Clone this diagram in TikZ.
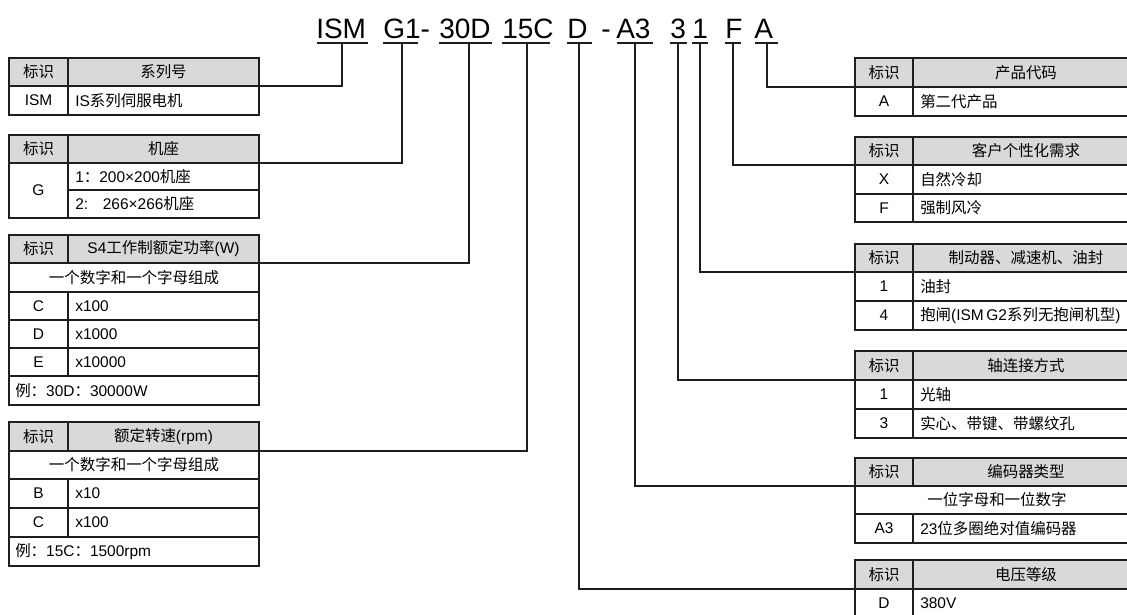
\documentclass[tikz,border=0pt]{standalone}
\usepackage{fontspec}
\setmainfont{Liberation Sans}
\newfontfamily\cjk{Noto Sans CJK SC}
\definecolor{headgray}{RGB}{217,217,217}
\definecolor{linecol}{RGB}{30,30,30}
\tikzset{
  tb/.style={draw=linecol, line width=0.9pt},
  conn/.style={draw=linecol, line width=0.8pt},
  txt/.style={inner sep=0pt, font=\fontsize{11.6pt}{13pt}\selectfont, text=black},
  lt/.style={txt, anchor=west},
  ttl/.style={inner sep=0pt, anchor=base west, font=\fontsize{21pt}{24pt}\selectfont},
}
% header: name, L, D, R, top, bottom, title
\newcommand\Head[7]{%
  \fill[headgray] (#2,#5) rectangle (#4,#6);
  \node[txt] (#1-id) at ({(#2+#3)/2},{(#5+#6)/2}) {\cjk 标识};
  \node[txt] (#1-t) at ({(#3+#4)/2},{(#5+#6)/2}) {#7};
  \coordinate (#1-L) at (#2,#6);
  \coordinate (#1-R) at (#4,#6);
}
% row: name, L, D, top, bottom, id, desc
\newcommand\Row[7]{%
  \node[txt] (#1-a) at ({(#2+#3)/2},{(#4+#5)/2}) {#6};
  \node[lt] (#1-b) at ({#3+7},{(#4+#5)/2}) {#7};
}
\begin{document}
\begin{tikzpicture}[x=0.75pt,y=-0.75pt]
\useasboundingbox (0,0) rectangle (1127,614);
\clip (0,0) rectangle (1127,614);
\fill[white] (0,0) rectangle (1127,614);

% ---------- title ----------
\node[ttl] (tISM) at (316,38) {ISM};
\node[ttl] (tG) at (383,38) {G1-};
\node[ttl] (t30D) at (439,38) {30D};
\node[ttl] (t15C) at (502,38) {15C};
\node[ttl] (tD) at (567,38) {D};
\node[ttl] (tdash) at (601,38) {-};
\node[ttl] (tA3) at (616,38) {A3};
\node[ttl] (t3) at (670,38) {3};
\node[ttl] (t1) at (692,38) {1};
\node[ttl] (tF) at (725,38) {F};
\node[ttl] (tA) at (754,38) {A};
\draw[conn] (317,43) -- (368,43);
\draw[conn] (383,43) -- (418,43);
\draw[conn] (439,43) -- (492,43);
\draw[conn] (502,43) -- (550,43);
\draw[conn] (567,43) -- (592,43);
\draw[conn] (617,43) -- (653,43);
\draw[conn] (670,43) -- (687,43);
\draw[conn] (692,43) -- (708,43);
\draw[conn] (725,43) -- (741,43);
\draw[conn] (755,43) -- (778,43);
\coordinate (uISM) at (342,43);
\coordinate (uG) at (402,43);
\coordinate (u30D) at (469,43);
\coordinate (u15C) at (527,43);
\coordinate (uD) at (579,43);
\coordinate (uA3) at (635,43);
\coordinate (u3) at (678,43);
\coordinate (u1) at (700,43);
\coordinate (uF) at (733,43);
\coordinate (uA) at (767,43);

% ---------- left tables ----------
% series
\Head{sys}{9}{68}{259}{58}{86}{\cjk 系列号}
\Row{sys1}{9}{68}{86}{115}{ISM}{IS{\cjk 系列伺服电机}}
\draw[tb] (9,58) rectangle (259,115);
\draw[tb] (9,86) -- (259,86);
\draw[tb] (68,58) -- (68,115);

% frame
\Head{base}{9}{68}{259}{135}{163}{\cjk 机座}
\node[txt] (base-g) at (38.5,190.5) {G};
\node[lt] (base-1) at (75,176.5) {1{\cjk ：}200×200{\cjk 机座}};
\node[lt] (base-2) at (75,204) {2:\hspace{11pt}266×266{\cjk 机座}};
\draw[tb] (9,135) rectangle (259,218);
\draw[tb] (9,163) -- (259,163);
\draw[tb] (68,190) -- (259,190);
\draw[tb] (68,135) -- (68,218);

% power
\Head{pow}{9}{68}{259}{235}{263}{S4{\cjk 工作制额定功率}(W)}
\node[txt] (pow-n) at (134,277.5) {\cjk 一个数字和一个字母组成};
\Row{powC}{9}{68}{292}{320}{C}{x100}
\Row{powD}{9}{68}{320}{348}{D}{x1000}
\Row{powE}{9}{68}{348}{376}{E}{x10000}
\node[lt] (pow-ex) at (15,390.5) {{\cjk 例：}30D{\cjk ：}30000W};
\draw[tb] (9,235) rectangle (259,405);
\foreach \yy in {263,292,320,348,376} \draw[tb] (9,\yy) -- (259,\yy);
\draw[tb] (68,235) -- (68,263);
\draw[tb] (68,292) -- (68,376);

% speed
\Head{spd}{9}{68}{259}{422}{451}{{\cjk 额定转速}(rpm)}
\node[txt] (spd-n) at (134,465) {\cjk 一个数字和一个字母组成};
\Row{spdB}{9}{68}{479}{508}{B}{x10}
\Row{spdC}{9}{68}{508}{537}{C}{x100}
\node[lt] (spd-ex) at (15,551.5) {{\cjk 例：}15C{\cjk ：}1500rpm};
\draw[tb] (9,422) rectangle (259,566);
\foreach \yy in {451,479,508,537} \draw[tb] (9,\yy) -- (259,\yy);
\draw[tb] (68,422) -- (68,451);
\draw[tb] (68,479) -- (68,537);

% ---------- right tables ----------
% product code
\Head{prd}{855}{913}{1139}{58}{87}{\cjk 产品代码}
\Row{prdA}{855}{913}{87}{116}{A}{\cjk 第二代产品}
\draw[tb] (855,58) rectangle (1139,116);
\draw[tb] (855,87) -- (1139,87);
\draw[tb] (913,58) -- (913,116);

% customer
\Head{cus}{855}{913}{1139}{137}{165}{\cjk 客户个性化需求}
\Row{cusX}{855}{913}{165}{194}{X}{\cjk 自然冷却}
\Row{cusF}{855}{913}{194}{222}{F}{\cjk 强制风冷}
\draw[tb] (855,137) rectangle (1139,222);
\draw[tb] (855,165) -- (1139,165);
\draw[tb] (855,194) -- (1139,194);
\draw[tb] (913,137) -- (913,222);

% brake
\Head{brk}{855}{913}{1139}{244}{272}{\cjk 制动器、减速机、油封}
\Row{brk1}{855}{913}{272}{301}{1}{\cjk 油封}
\Row{brk4}{855}{913}{301}{330}{4}{{\cjk 抱闸}(ISM\,G2{\cjk 系列无抱闸机型})}
\draw[tb] (855,244) rectangle (1139,330);
\draw[tb] (855,272) -- (1139,272);
\draw[tb] (855,301) -- (1139,301);
\draw[tb] (913,244) -- (913,330);

% shaft
\Head{sft}{855}{913}{1139}{351}{380}{\cjk 轴连接方式}
\Row{sft1}{855}{913}{380}{409}{1}{\cjk 光轴}
\Row{sft3}{855}{913}{409}{438}{3}{\cjk 实心、带键、带螺纹孔}
\draw[tb] (855,351) rectangle (1139,438);
\draw[tb] (855,380) -- (1139,380);
\draw[tb] (855,409) -- (1139,409);
\draw[tb] (913,351) -- (913,438);

% encoder
\Head{enc}{855}{913}{1139}{458}{486}{\cjk 编码器类型}
\node[txt] (enc-n) at (997,500) {\cjk 一位字母和一位数字};
\Row{encA3}{855}{913}{514}{543}{A3}{23{\cjk 位多圈绝对值编码器}}
\draw[tb] (855,458) rectangle (1139,543);
\draw[tb] (855,486) -- (1139,486);
\draw[tb] (855,514) -- (1139,514);
\draw[tb] (913,458) -- (913,486);
\draw[tb] (913,514) -- (913,543);

% voltage
\Head{vol}{855}{913}{1139}{560}{589}{\cjk 电压等级}
\Row{volD}{855}{913}{589}{618}{D}{380V}
\draw[tb] (855,560) rectangle (1139,618);
\draw[tb] (855,589) -- (1139,589);
\draw[tb] (913,560) -- (913,618);

% ---------- connectors ----------
\draw[conn] (uISM) |- (sys-R);
\draw[conn] (uG) |- (base-R);
\draw[conn] (u30D) |- (pow-R);
\draw[conn] (u15C) |- (spd-R);
\draw[conn] (uD) |- (vol-L);
\draw[conn] (uA3) |- (enc-L);
\draw[conn] (u3) |- (sft-L);
\draw[conn] (u1) |- (brk-L);
\draw[conn] (uF) |- (cus-L);
\draw[conn] (uA) |- (prd-L);
\end{tikzpicture}
\end{document}
